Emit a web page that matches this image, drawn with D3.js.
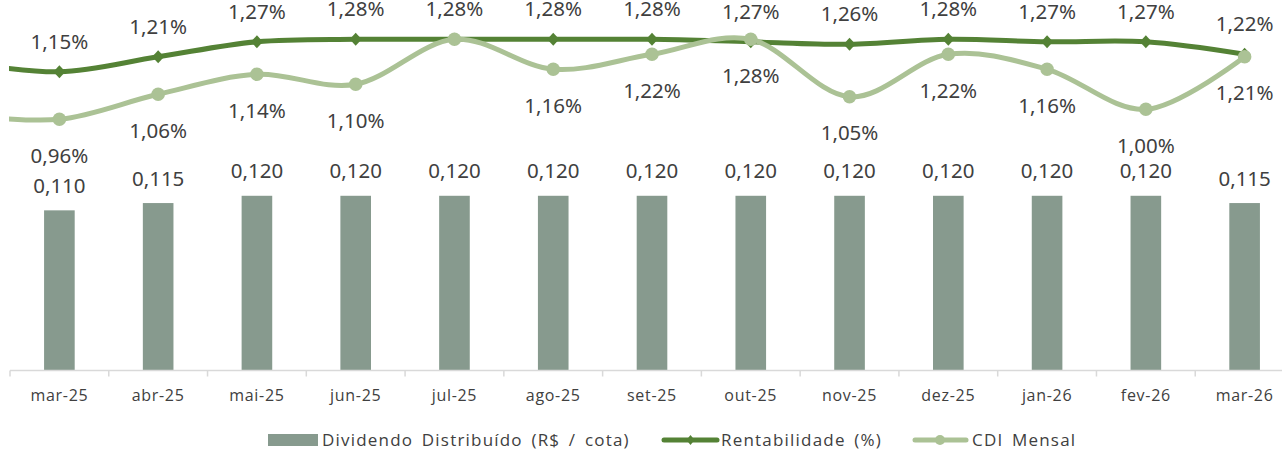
<!DOCTYPE html>
<html lang="pt-BR">
<head>
<meta charset="utf-8">
<script src="https://cdn.jsdelivr.net/npm/d3@7"></script>
<style>
  html, body { margin: 0; padding: 0; background: #ffffff; }
  svg { display: block; }
  .axis-label { font-family: "Open Sans", sans-serif; font-size: 16px; letter-spacing: 0.7px; fill: #404040; }
  .value-label { font-family: "Noto Sans", sans-serif; font-stretch: condensed; font-weight: 400; font-size: 20.5px; fill: #404040; }
  .legend-label { font-family: "Open Sans", sans-serif; font-size: 17px; letter-spacing: 1.2px; word-spacing: 3px; fill: #404040; }
</style>
</head>
<body>
<svg id="chart" width="1282" height="450"></svg>
<script>
// Months shown on the axis
const categories = ["mar-25", "abr-25", "mai-25", "jun-25", "jul-25", "ago-25", "set-25",
                    "out-25", "nov-25", "dez-25", "jan-26", "fev-26", "mar-26"];

// Dividend paid per share (R$ / cota)
const dividendo = [0.110, 0.115, 0.120, 0.120, 0.120, 0.120, 0.120, 0.120, 0.120, 0.120, 0.120, 0.120, 0.115];

// Monthly return of the fund (%)
const rentabilidade = [1.15, 1.21, 1.27, 1.28, 1.28, 1.28, 1.28, 1.27, 1.26, 1.28, 1.27, 1.27, 1.22];

// Monthly CDI (%)
const cdi = [0.96, 1.06, 1.14, 1.10, 1.28, 1.16, 1.22, 1.28, 1.05, 1.22, 1.16, 1.00, 1.21];

// Previous month (fev-25): only the lead-in of each curve is visible at the left edge
const priorCategory = "fev-25";
const rentabilidadePrior = 1.19;
const cdiPrior = 0.98;

// CDI labels that are not printed (overlap with the return label)
const cdiHiddenLabels = ["jul-25"];

const legendItems = ["Dividendo Distribuído (R$ / cota)", "Rentabilidade (%)", "CDI Mensal"];

const colors = { bar: "#879a8e", rent: "#548235", cdi: "#abc295", axis: "#d9d9d9", text: "#404040" };

const fmtPct = v => d3.format(".2f")(v).replace(".", ",") + "%";
const fmtDiv = v => d3.format(".3f")(v).replace(".", ",");

const svg = d3.select("#chart");
const W = 1282, H = 450;

const plot = { left: 10, right: 1294, top: 6.5, bottom: 370.5 };

const x = d3.scaleBand().domain(categories).range([plot.left, plot.right]).padding(0);
const step = x.step();
const cx = c => c === priorCategory ? x(categories[0]) - step / 2 : x(c) + step / 2;

const yBar = d3.scaleLinear().domain([0, 0.25]).range([plot.bottom, plot.top]);
const yLine = d3.scaleLinear().domain([0.9, 1.3]).range([134.3, 34.3]);

// Bars
const barW = step * 0.31;
svg.append("g").selectAll("rect").data(categories).join("rect")
  .attr("x", c => cx(c) - barW / 2)
  .attr("y", (c, i) => yBar(dividendo[i]))
  .attr("width", barW)
  .attr("height", (c, i) => yBar(0) - yBar(dividendo[i]))
  .attr("fill", colors.bar);

// Bar labels
svg.append("g").selectAll("text").data(categories).join("text")
  .attr("class", "value-label")
  .attr("text-anchor", "middle")
  .attr("x", c => cx(c))
  .attr("y", (c, i) => yBar(dividendo[i]) - 24.5 + 7.2)
  .text((c, i) => fmtDiv(dividendo[i]));

// Category axis
const axisG = svg.append("g").attr("transform", `translate(0,${plot.bottom})`);
axisG.append("line")
  .attr("x1", plot.left).attr("x2", plot.right)
  .attr("stroke", colors.axis).attr("stroke-width", 1.5);
const boundaries = categories.map(c => x(c)).concat([x(categories[categories.length - 1]) + step]);
axisG.selectAll("line.tick").data(boundaries).join("line")
  .attr("class", "tick")
  .attr("x1", d => d).attr("x2", d => d)
  .attr("y1", 0).attr("y2", 6)
  .attr("stroke", colors.axis).attr("stroke-width", 1.5);
axisG.selectAll("text").data(categories).join("text")
  .attr("class", "axis-label")
  .attr("text-anchor", "middle")
  .attr("x", c => cx(c))
  .attr("y", 30.5)
  .text(c => c);

// Lines
const clipId = "plot-clip";
svg.append("clipPath").attr("id", clipId)
  .append("rect").attr("x", 9).attr("y", 0).attr("width", W).attr("height", H);

const lineGen = d3.line().x(d => cx(d.c)).y(d => yLine(d.v)).curve(d3.curveCardinal);

const rentPts = [{ c: priorCategory, v: rentabilidadePrior }].concat(categories.map((c, i) => ({ c, v: rentabilidade[i] })));
const cdiPts = [{ c: priorCategory, v: cdiPrior }].concat(categories.map((c, i) => ({ c, v: cdi[i] })));

const linesG = svg.append("g").attr("clip-path", `url(#${clipId})`);
linesG.append("path").attr("d", lineGen(rentPts))
  .attr("fill", "none").attr("stroke", colors.rent).attr("stroke-width", 5).attr("stroke-linejoin", "round");
linesG.append("path").attr("d", lineGen(cdiPts))
  .attr("fill", "none").attr("stroke", colors.cdi).attr("stroke-width", 5).attr("stroke-linejoin", "round");

// Markers
const diamond = (hw, hh) => `M0,${-hh}L${hw},0L0,${hh}L${-hw},0Z`;
svg.append("g").selectAll("path").data(categories).join("path")
  .attr("d", diamond(6, 6.5))
  .attr("transform", (c, i) => `translate(${cx(c)},${yLine(rentabilidade[i])})`)
  .attr("fill", colors.rent);
svg.append("g").selectAll("circle").data(categories).join("circle")
  .attr("cx", c => cx(c))
  .attr("cy", (c, i) => yLine(cdi[i]))
  .attr("r", 6.8)
  .attr("fill", colors.cdi);

// Line labels
svg.append("g").selectAll("text").data(categories).join("text")
  .attr("class", "value-label")
  .attr("text-anchor", "middle")
  .attr("x", c => cx(c))
  .attr("y", (c, i) => yLine(rentabilidade[i]) - 30.5 + 7.4)
  .text((c, i) => fmtPct(rentabilidade[i]));
svg.append("g").selectAll("text").data(categories.filter(c => !cdiHiddenLabels.includes(c))).join("text")
  .attr("class", "value-label")
  .attr("text-anchor", "middle")
  .attr("x", c => cx(c))
  .attr("y", c => yLine(cdi[categories.indexOf(c)]) + 36 + 7.4)
  .text(c => fmtPct(cdi[categories.indexOf(c)]));

// Legend
const legY = 440;
const leg = svg.append("g");
leg.append("rect").attr("x", 268).attr("y", legY - 6).attr("width", 50).attr("height", 12).attr("fill", colors.bar);
leg.append("text").attr("class", "legend-label").attr("x", 322).attr("y", legY + 6).text(legendItems[0]);

leg.append("line").attr("x1", 664).attr("x2", 717).attr("y1", legY).attr("y2", legY)
  .attr("stroke", colors.rent).attr("stroke-width", 5).attr("stroke-linecap", "round");
leg.append("path").attr("d", diamond(4, 5)).attr("transform", `translate(690.5,${legY})`).attr("fill", colors.rent);
leg.append("text").attr("class", "legend-label").attr("x", 721).attr("y", legY + 6).text(legendItems[1]);

leg.append("line").attr("x1", 915).attr("x2", 966).attr("y1", legY).attr("y2", legY)
  .attr("stroke", colors.cdi).attr("stroke-width", 5).attr("stroke-linecap", "round");
leg.append("circle").attr("cx", 940).attr("cy", legY).attr("r", 5).attr("fill", colors.cdi);
leg.append("text").attr("class", "legend-label").attr("x", 972).attr("y", legY + 6).text(legendItems[2]);
</script>
</body>
</html>
